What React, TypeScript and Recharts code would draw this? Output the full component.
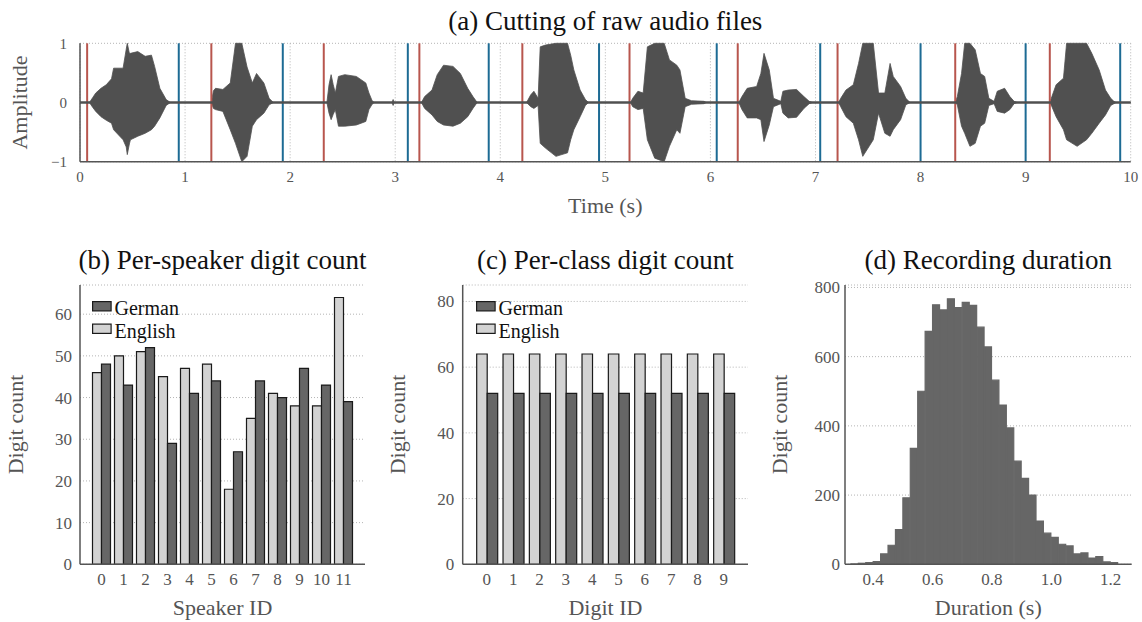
import React from 'react';
import {
  ComposedChart,
  Area,
  XAxis,
  YAxis,
  CartesianGrid,
  ReferenceLine,
  BarChart,
  Bar,
  Legend,
} from 'recharts';

const FONT = '"Liberation Serif", "Times New Roman", serif';
const AXIS_GRAY = '#555555';
const GRID = '#b4b4b4';
const RED = '#b8564e';
const BLUE = '#1d6b94';
const DARK = '#666666';
const LIGHT = '#d3d3d3';
const WAVE = '#505050';

// ---------- (a) waveform envelope ----------
const waveTime = [
  0, 0.09, 0.12, 0.15, 0.2, 0.25, 0.3, 0.32, 0.41, 0.44, 0.45, 0.47, 0.48, 0.55, 0.62, 0.68, 0.71, 0.76, 0.82, 0.86,
  1.25, 1.27, 1.29, 1.36, 1.43, 1.48, 1.54, 1.59, 1.64, 1.68, 1.75, 1.8, 1.84,
  2.35, 2.37, 2.39, 2.41, 2.43, 2.46, 2.52, 2.63, 2.72, 2.75, 2.78, 2.8,
  2.97, 2.98, 2.99,
  3.25, 3.28, 3.35, 3.4, 3.46, 3.55, 3.62, 3.69, 3.74, 3.78,
  4.25, 4.29, 4.32, 4.36, 4.38, 4.43, 4.53, 4.64, 4.67, 4.7, 4.76, 4.81, 4.84,
  5.24, 5.26, 5.31, 5.36, 5.4, 5.47, 5.56, 5.61, 5.68, 5.71, 5.76, 5.82, 5.94, 5.96,
  6.27, 6.3, 6.35, 6.44, 6.48, 6.51, 6.56, 6.6, 6.67, 6.69, 6.74, 6.82, 6.89, 6.94, 6.97,
  7.22, 7.24, 7.29, 7.36, 7.41, 7.45, 7.55, 7.6, 7.66, 7.71, 7.74, 7.81, 7.86, 7.9,
  8.33, 8.35, 8.39, 8.42, 8.47, 8.52, 8.57, 8.61, 8.65, 8.7, 8.73, 8.8, 8.85, 8.89, 8.92,
  9.23, 9.25, 9.29, 9.36, 9.39, 9.49, 9.58, 9.63, 9.7, 9.76, 9.81, 9.84, 9.86, 10,
];
const waveHigh = [
  0, 0, 0.08, 0.16, 0.24, 0.3, 0.4, 0.58, 0.58, 0.9, 1.0, 0.83, 0.83, 0.86, 0.78, 0.8, 0.61, 0.24, 0.05, 0,
  0, 0.2, 0.24, 0.22, 0.33, 1.0, 1.0, 0.6, 0.33, 0.49, 0.33, 0.07, 0,
  0, 0.3, 0.47, 0.3, 0.16, 0.44, 0.47, 0.44, 0.33, 0.16, 0.03, 0,
  0, 0.05, 0,
  0, 0.1, 0.21, 0.47, 0.63, 0.61, 0.49, 0.24, 0.1, 0,
  0, 0.13, 0.19, 0.07, 0.94, 0.97, 1.0, 1.0, 0.8, 0.55, 0.21, 0.05, 0,
  0, 0.07, 0.19, 0.16, 0.94, 1.0, 1.0, 0.72, 0.63, 0.55, 0.07, 0.03, 0.02, 0,
  0, 0.1, 0.24, 0.27, 0.49, 0.83, 0.55, 0.07, 0.02, 0.19, 0.21, 0.22, 0.1, 0.02, 0,
  0, 0.07, 0.21, 0.3, 0.66, 1.0, 1.0, 0.16, 0.16, 0.66, 0.44, 0.27, 0.07, 0,
  0, 0.1, 0.49, 1.0, 1.0, 0.89, 0.49, 0.44, 0.07, 0.02, 0.19, 0.24, 0.1, 0.02, 0,
  0, 0.1, 0.3, 0.41, 1.0, 1.0, 1.0, 0.83, 0.55, 0.21, 0.07, 0.02, 0, 0,
];
const waveLow = [
  0, 0, -0.08, -0.15, -0.24, -0.3, -0.35, -0.46, -0.63, -0.75, -0.88, -0.7, -0.63, -0.57, -0.52, -0.46, -0.4, -0.26, -0.05, 0,
  0, -0.1, -0.12, -0.15, -0.46, -0.69, -1.0, -0.91, -0.4, -0.29, -0.18, -0.04, 0,
  0, -0.18, -0.29, -0.2, -0.12, -0.4, -0.4, -0.38, -0.32, -0.12, -0.03, 0,
  0, -0.05, 0,
  0, -0.1, -0.21, -0.32, -0.38, -0.4, -0.35, -0.24, -0.1, 0,
  0, -0.07, -0.1, -0.05, -0.69, -0.77, -0.91, -0.85, -0.63, -0.46, -0.24, -0.05, 0,
  0, -0.07, -0.12, -0.1, -0.63, -0.94, -1.0, -0.74, -0.46, -0.52, -0.07, -0.03, -0.02, 0,
  0, -0.12, -0.26, -0.26, -0.29, -0.66, -0.38, -0.07, -0.02, -0.18, -0.26, -0.25, -0.1, -0.02, 0,
  0, -0.07, -0.24, -0.35, -0.63, -0.91, -0.63, -0.18, -0.52, -0.57, -0.46, -0.29, -0.04, 0,
  0, -0.04, -0.4, -0.52, -0.74, -0.69, -0.4, -0.35, -0.05, -0.02, -0.15, -0.18, -0.12, -0.02, 0,
  0, -0.07, -0.24, -0.46, -0.63, -0.74, -0.63, -0.52, -0.35, -0.21, -0.05, -0.02, 0, 0,
];
const cutStarts = [0.068, 1.25, 2.32, 3.23, 4.21, 5.23, 6.26, 7.21, 8.33, 9.23];
const cutEnds = [0.94, 1.93, 3.12, 3.89, 4.94, 6.06, 7.045, 8.0, 9.0, 9.9];
const timeTicks = [0, 1, 2, 3, 4, 5, 6, 7, 8, 9, 10];
const ampTicks = [-1, 0, 1];

// ---------- (b) per-speaker ----------
const speakerIds = ['0', '1', '2', '3', '4', '5', '6', '7', '8', '9', '10', '11'];
const speakerEnglish = [46, 50, 51, 45, 47, 48, 18, 35, 41, 38, 38, 64];
const speakerGerman = [48, 43, 52, 29, 41, 44, 27, 44, 40, 47, 43, 39];
const speakerTicks = [0, 10, 20, 30, 40, 50, 60];

// ---------- (c) per-class ----------
const digitIds = ['0', '1', '2', '3', '4', '5', '6', '7', '8', '9'];
const digitEnglish = [64, 64, 64, 64, 64, 64, 64, 64, 64, 64];
const digitGerman = [52, 52, 52, 52, 52, 52, 52, 52, 52, 52];
const digitTicks = [0, 20, 40, 60, 80];

// ---------- (d) duration histogram ----------
const durationBinStart = [
  0.325, 0.35, 0.375, 0.4, 0.425, 0.45, 0.475, 0.5, 0.525, 0.55, 0.575, 0.6, 0.625, 0.65, 0.675, 0.7, 0.725, 0.75,
  0.775, 0.8, 0.825, 0.85, 0.875, 0.9, 0.925, 0.95, 0.975, 1.0, 1.025, 1.05, 1.075, 1.1, 1.125, 1.15, 1.175, 1.2,
];
const durationCounts = [
  1, 3, 5, 8, 30, 55, 100, 192, 335, 500, 673, 750, 735, 767, 742, 757, 748, 685,
  628, 532, 460, 394, 298, 248, 200, 125, 90, 78, 58, 53, 30, 33, 18, 22, 7, 5,
];
const durationBinWidth = 0.025;
const durationTicks = [0.4, 0.6, 0.8, 1.0, 1.2];
const countTicks = [0, 200, 400, 600, 800];

const legendItems = [
  { name: 'German', fill: DARK },
  { name: 'English', fill: LIGHT },
];

const waveData = waveTime.map((t, i) => ({ t, range: [waveLow[i], waveHigh[i]] }));
const speakerData = speakerIds.map((id, i) => ({ id, english: speakerEnglish[i], german: speakerGerman[i] }));
const digitData = digitIds.map((id, i) => ({ id, english: digitEnglish[i], german: digitGerman[i] }));
const durationData = durationBinStart.map((s, i) => ({ x: s + durationBinWidth / 2, count: durationCounts[i] }));

const axisLine = { stroke: AXIS_GRAY, strokeWidth: 1.5 };
const tickStyle = (size: number) => ({ fill: AXIS_GRAY, fontSize: size, fontFamily: FONT });
const minus = (v: number) => (v < 0 ? `\u2212${-v}` : `${v}`);

const LEG_STEP = 22.5;
const LegendBox = () => (
  <svg width={120} height={46} style={{ display: 'block', overflow: 'visible' }}>
    {legendItems.map((it, i) => (
      <g key={it.name}>
        <rect x={0.6} y={0.6 + i * LEG_STEP} width={18.5} height={9.3} fill={it.fill} stroke="#1a1a1a" strokeWidth={1.2} />
        <text x={22.5} y={14.3 + i * LEG_STEP} fontFamily={FONT} fontSize={20} fill="#111">
          {it.name}
        </text>
      </g>
    ))}
  </svg>
);

const pos = (left: number, top: number): React.CSSProperties => ({ position: 'absolute', left, top });

export default function App() {
  return (
    <div
      style={{
        position: 'absolute',
        left: 0,
        top: 0,
        width: 1142,
        height: 622,
        background: '#ffffff',
        overflow: 'hidden',
        fontFamily: FONT,
      }}
    >
      {/* (a) */}
      <div style={pos(0, 0)}>
        <ComposedChart width={1142} height={225} data={waveData} margin={{ top: 43.3, right: 11.3, left: 0, bottom: 0 }}>
          <CartesianGrid stroke={GRID} strokeDasharray="1 2" />
          <XAxis
            type="number"
            dataKey="t"
            domain={[0, 10]}
            ticks={timeTicks}
            interval={0}
            allowDataOverflow
            height={63.3}
            tickSize={0}
            tickMargin={10}
            tickLine={false}
            axisLine={axisLine}
            tick={tickStyle(15)}
          />
          <YAxis
            type="number"
            domain={[-1, 1]}
            ticks={ampTicks}
            interval={0}
            width={80}
            tickSize={0}
            tickMargin={13}
            tickLine={false}
            axisLine={axisLine}
            tick={tickStyle(15)}
            tickFormatter={minus}
          />
          {cutStarts.map((t) => (
            <ReferenceLine key={`s${t}`} x={t} stroke={RED} strokeWidth={2} />
          ))}
          {cutEnds.map((t) => (
            <ReferenceLine key={`e${t}`} x={t} stroke={BLUE} strokeWidth={2} />
          ))}
          <Area
            dataKey="range"
            type="linear"
            fill={WAVE}
            fillOpacity={1}
            stroke={WAVE}
            strokeWidth={0.8}
            dot={false}
            activeDot={false}
            isAnimationActive={false}
          />
          <ReferenceLine y={0} stroke={WAVE} strokeWidth={2.5} />
        </ComposedChart>
      </div>

      {/* (b) */}
      <div style={pos(0, 240)}>
        <BarChart
          width={380}
          height={380}
          data={speakerData}
          margin={{ top: 45, right: 15, left: 0, bottom: 0 }}
          barGap={0}
          barSize={9}
        >
          <CartesianGrid vertical={false} stroke={GRID} strokeDasharray="1 2" />
          <XAxis
            dataKey="id"
            interval={0}
            height={55.7}
            padding={{ left: 10.5, right: 10.5 }}
            tickSize={0}
            tickMargin={9}
            tickLine={false}
            axisLine={axisLine}
            tick={tickStyle(17)}
          />
          <YAxis
            domain={[0, 67]}
            ticks={speakerTicks}
            interval={0}
            width={80}
            tickSize={0}
            tickMargin={8}
            tickLine={false}
            axisLine={axisLine}
            tick={tickStyle(17)}
          />
          <Legend
            layout="vertical"
            align="center"
            verticalAlign="middle"
            wrapperStyle={{ left: 92.3, top: 60.7, width: 120 }}
            content={() => <LegendBox />}
          />
          <Bar dataKey="english" name="English" fill={LIGHT} stroke="#1a1a1a" strokeWidth={1.2} isAnimationActive={false} />
          <Bar dataKey="german" name="German" fill={DARK} stroke="#1a1a1a" strokeWidth={1.2} isAnimationActive={false} />
        </BarChart>
      </div>

      {/* (c) */}
      <div style={pos(380, 240)}>
        <BarChart
          width={380}
          height={380}
          data={digitData}
          margin={{ top: 45, right: 12, left: 0, bottom: 0 }}
          barGap={0}
          barSize={10.5}
        >
          <CartesianGrid vertical={false} stroke={GRID} strokeDasharray="1 2" />
          <XAxis
            dataKey="id"
            interval={0}
            height={55.7}
            padding={{ left: 11, right: 11 }}
            tickSize={0}
            tickMargin={9}
            tickLine={false}
            axisLine={axisLine}
            tick={tickStyle(17)}
          />
          <YAxis
            domain={[0, 85]}
            ticks={digitTicks}
            interval={0}
            width={82.7}
            tickSize={0}
            tickMargin={8.5}
            tickLine={false}
            axisLine={axisLine}
            tick={tickStyle(17)}
          />
          <Legend
            layout="vertical"
            align="center"
            verticalAlign="middle"
            wrapperStyle={{ left: 95.7, top: 60.7, width: 120 }}
            content={() => <LegendBox />}
          />
          <Bar dataKey="english" name="English" fill={LIGHT} stroke="#1a1a1a" strokeWidth={1.2} isAnimationActive={false} />
          <Bar dataKey="german" name="German" fill={DARK} stroke="#1a1a1a" strokeWidth={1.2} isAnimationActive={false} />
        </BarChart>
      </div>

      {/* (d) */}
      <div style={pos(760, 240)}>
        <BarChart
          width={382}
          height={380}
          data={durationData}
          margin={{ top: 45, right: 10.3, left: 0, bottom: 0 }}
          barCategoryGap={0}
          barGap={0}
        >
          <CartesianGrid vertical={false} stroke={GRID} strokeDasharray="1 2" />
          <XAxis
            type="number"
            dataKey="x"
            domain={[0.305, 1.271]}
            ticks={durationTicks}
            interval={0}
            allowDataOverflow
            height={55.7}
            tickSize={0}
            tickMargin={9}
            tickLine={false}
            axisLine={axisLine}
            tick={tickStyle(17)}
            tickFormatter={(v: number) => v.toFixed(1)}
          />
          <YAxis
            domain={[0, 807]}
            ticks={countTicks}
            interval={0}
            width={85}
            tickSize={0}
            tickMargin={5}
            tickLine={false}
            axisLine={axisLine}
            tick={tickStyle(17)}
          />
          <Bar dataKey="count" fill={DARK} stroke={DARK} strokeWidth={1.2} isAnimationActive={false} />
        </BarChart>
      </div>

      {/* titles and axis labels */}
      <svg
        width={1142}
        height={622}
        style={{ position: 'absolute', left: 0, top: 0, pointerEvents: 'none' }}
        fontFamily={FONT}
      >
        <text x={605.3} y={30} textAnchor="middle" fontSize={27} fill="#111">
          (a) Cutting of raw audio files
        </text>
        <text x={605.3} y={213} textAnchor="middle" fontSize={22} fill={AXIS_GRAY}>
          Time (s)
        </text>
        <text x={27} y={102.5} textAnchor="middle" fontSize={22} fill={AXIS_GRAY} transform="rotate(-90 27 102.5)">
          Amplitude
        </text>

        <text x={222.5} y={269} textAnchor="middle" fontSize={27} fill="#111">
          (b) Per-speaker digit count
        </text>
        <text x={222.5} y={615} textAnchor="middle" fontSize={22} fill={AXIS_GRAY}>
          Speaker ID
        </text>
        <text x={23} y={424.5} textAnchor="middle" fontSize={22} fill={AXIS_GRAY} transform="rotate(-90 23 424.5)">
          Digit count
        </text>

        <text x={605.4} y={269} textAnchor="middle" fontSize={27} fill="#111">
          (c) Per-class digit count
        </text>
        <text x={605.4} y={615} textAnchor="middle" fontSize={22} fill={AXIS_GRAY}>
          Digit ID
        </text>
        <text x={405} y={424.5} textAnchor="middle" fontSize={22} fill={AXIS_GRAY} transform="rotate(-90 405 424.5)">
          Digit count
        </text>

        <text x={988.3} y={269} textAnchor="middle" fontSize={27} fill="#111">
          (d) Recording duration
        </text>
        <text x={988.3} y={615} textAnchor="middle" fontSize={22} fill={AXIS_GRAY}>
          Duration (s)
        </text>
        <text x={787} y={424.5} textAnchor="middle" fontSize={22} fill={AXIS_GRAY} transform="rotate(-90 787 424.5)">
          Digit count
        </text>
      </svg>
    </div>
  );
}
